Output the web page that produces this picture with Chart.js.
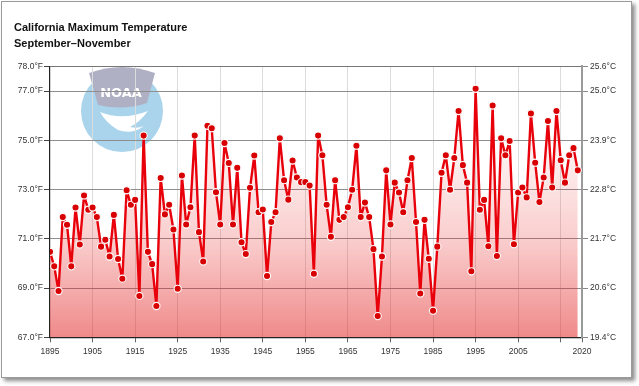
<!DOCTYPE html>
<html>
<head>
<meta charset="utf-8">
<script src="https://cdn.jsdelivr.net/npm/chart.js@4.4.1/dist/chart.umd.min.js"></script>
<style>
  html, body { margin: 0; padding: 0; background: #ffffff; }
  body { width: 639px; height: 386px; position: relative; overflow: hidden; }
  #frame { position: absolute; left: 1px; top: 1px; width: 629px; height: 375px;
           border: 1px solid #9a9a9a; background: #fff;
           box-shadow: 3px 3px 4px rgba(0,0,0,0.45); }
  #c { position: absolute; left: 0; top: 0; }
</style>
</head>
<body>
<div id="frame"></div>
<canvas id="c" width="639" height="386"></canvas>
<script>
// ---------------- data ----------------
const chartTitle = 'California Maximum Temperature';
const chartSubtitle = 'September–November';
const firstYear = 1895;
const lastYear = 2019;
const tempF = [
  70.47, 69.88, 68.88, 71.88, 71.57, 69.88, 72.27, 70.77, 72.76, 72.18, // 1895-1904
  72.27, 71.88, 70.68, 70.96, 70.28, 71.97, 70.18, 69.38, 72.97, 72.38, // 1905-1914
  72.58, 68.68, 75.19, 70.47, 69.97, 68.27, 73.47, 71.99, 72.38, 71.38, // 1915-1924
  68.97, 73.57, 71.58, 72.28, 75.19, 71.27, 70.08, 75.59, 75.49, 72.89, // 1925-1934
  71.58, 74.89, 74.08, 71.58, 73.88, 70.86, 70.38, 73.07, 74.38, 72.08, // 1935-1944
  72.19, 69.49, 71.68, 72.08, 75.08, 73.38, 72.59, 74.18, 73.49, 73.30, // 1945-1954
  73.30, 73.16, 69.58, 75.19, 74.39, 72.38, 71.08, 73.38, 71.77, 71.88, // 1955-1964
  72.28, 72.99, 74.78, 71.88, 72.47, 71.88, 70.58, 67.86, 70.28, 73.78, // 1965-1974
  71.58, 73.28, 72.88, 72.08, 73.38, 74.28, 71.68, 68.78, 71.77, 70.19, // 1975-1984
  68.08, 70.68, 73.68, 74.39, 72.99, 74.28, 76.19, 73.99, 73.28, 69.68, // 1985-1994
  77.09, 72.18, 72.58, 70.70, 76.41, 70.30, 75.08, 74.39, 74.97, 70.78, // 1995-2004
  72.88, 73.08, 72.68, 76.09, 74.09, 72.49, 73.49, 75.78, 73.08, 76.19, // 2005-2014
  74.19, 73.28, 74.39, 74.68, 73.78                                      // 2015-2019
];
const xTickYears = [1895, 1905, 1915, 1925, 1935, 1945, 1955, 1965, 1975, 1985, 1995, 2005, 2015, 2020];
const xHiddenLabels = [2015];
const xMin = 1895, xMax = 2020;
const yTicksF = [67, 69, 71, 73, 75, 77, 78];
const yMin = 67, yMax = 78;

const years = [];
for (let y = firstYear; y <= lastYear; y++) years.push(y);
const points = years.map((yr, i) => ({ x: yr, y: tempF[i] }));

// ---------------- decoration: NOAA watermark ----------------
const noaaLogo = {
  id: 'noaaLogo',
  beforeDraw(chart) {
    const ctx = chart.ctx;
    ctx.save();
    const cx = 122, cy = 111, r = 41;
    ctx.fillStyle = 'rgb(170,212,236)';
    ctx.beginPath(); ctx.arc(cx, cy, r, 0, Math.PI * 2); ctx.fill();
    ctx.fillStyle = 'rgb(176,176,196)';
    ctx.beginPath();
    ctx.moveTo(89, 73);
    ctx.quadraticCurveTo(122, 61, 155, 73);
    ctx.lineTo(147, 103);
    ctx.quadraticCurveTo(124, 111, 98, 105);
    ctx.closePath(); ctx.fill();
    ctx.fillStyle = '#ffffff';
    ctx.font = 'bold 13px "DejaVu Sans"';
    ctx.textAlign = 'center'; ctx.textBaseline = 'alphabetic';
    ctx.fillText('NOAA', 121, 97);
    // gull
    ctx.beginPath();
    ctx.moveTo(100, 112);
    ctx.quadraticCurveTo(122, 121, 148, 111);
    ctx.quadraticCurveTo(140, 122, 130, 127);
    ctx.quadraticCurveTo(138, 129, 144, 126);
    ctx.quadraticCurveTo(132, 135, 118, 130);
    ctx.quadraticCurveTo(106, 123, 100, 112);
    ctx.closePath(); ctx.fill();
    ctx.restore();
  }
};

function fillGradient(context) {
  const chart = context.chart;
  const area = chart.chartArea;
  if (!area) return 'rgba(230,40,40,0.2)';
  const g = chart.ctx.createLinearGradient(0, area.top, 0, area.bottom);
  g.addColorStop(0.0, 'rgba(232,40,40,0.00)');
  g.addColorStop(0.35, 'rgba(232,40,40,0.08)');
  g.addColorStop(0.65, 'rgba(232,40,40,0.24)');
  g.addColorStop(1.0, 'rgba(225,30,30,0.52)');
  return g;
}

const tickFont = { family: '"Liberation Sans", Arial, sans-serif', size: 8.5 };

new Chart(document.getElementById('c'), {
  type: 'line',
  data: {
    datasets: [{
      data: points,
      borderColor: '#e8000a',
      borderWidth: 2.4,
      borderJoinStyle: 'round',
      borderCapStyle: 'round',
      tension: 0,
      pointRadius: 3.6,
      pointHoverRadius: 3.6,
      pointBackgroundColor: '#d80000',
      pointBorderColor: '#ffffff',
      pointBorderWidth: 1.1,
      fill: 'start',
      backgroundColor: fillGradient
    }]
  },
  options: {
    responsive: false,
    animation: false,
    devicePixelRatio: 1,
    layout: { padding: { left: 14, right: 12, top: 0, bottom: 28.7 } },
    plugins: {
      legend: { display: false },
      tooltip: { enabled: false },
      title: {
        display: true, text: chartTitle, align: 'start', color: '#111',
        font: { family: '"Liberation Sans", Arial, sans-serif', size: 11, weight: 'bold' },
        padding: { top: 21, bottom: 3 }
      },
      subtitle: {
        display: true, text: chartSubtitle, align: 'start', color: '#111',
        font: { family: '"Liberation Sans", Arial, sans-serif', size: 11, weight: 'bold' },
        padding: { top: 0, bottom: 16 }
      }
    },
    scales: {
      x: {
        type: 'linear', min: xMin, max: xMax,
        afterBuildTicks: s => { s.ticks = xTickYears.map(v => ({ value: v })); },
        afterFit: s => { s.height = 20; },
        ticks: {
          autoSkip: false, maxRotation: 0, padding: 4, color: '#333', font: tickFont,
          callback: v => xHiddenLabels.includes(v) ? '' : String(v)
        },
        grid: {
          color: c => (c.tick && (c.tick.value === xMin || c.tick.value === xMax)) ? 'rgba(0,0,0,0)' : '#dcdcdc',
          lineWidth: 1, tickLength: 5, tickColor: '#666'
        },
        border: { display: true, color: '#222', width: 1.2 }
      },
      y: {
        type: 'linear', position: 'left', min: yMin, max: yMax,
        afterBuildTicks: s => { s.ticks = yTicksF.map(v => ({ value: v })); },
        afterFit: s => { s.width = 36; },
        ticks: { padding: 1, color: '#333', font: tickFont, callback: v => v.toFixed(1) + '°F' },
        grid: {
          color: c => (c.tick && c.tick.value === yMax) ? '#777' : '#8e8e8e',
          lineWidth: 1, tickLength: 6, tickColor: '#444'
        },
        border: { display: true, color: '#222', width: 1.2 }
      },
      y2: {
        type: 'linear', position: 'right', min: yMin, max: yMax,
        afterBuildTicks: s => { s.ticks = yTicksF.map(v => ({ value: v })); },
        afterFit: s => { s.width = 45; },
        ticks: { padding: 2, color: '#333', font: tickFont, callback: v => ((v - 32) * 5 / 9).toFixed(1) + '°C' },
        grid: { drawOnChartArea: false, tickLength: 6, tickColor: '#888' },
        border: { display: true, color: '#9a9a9a', width: 2 }
      }
    }
  },
  plugins: [noaaLogo]
});
</script>
</body>
</html>
